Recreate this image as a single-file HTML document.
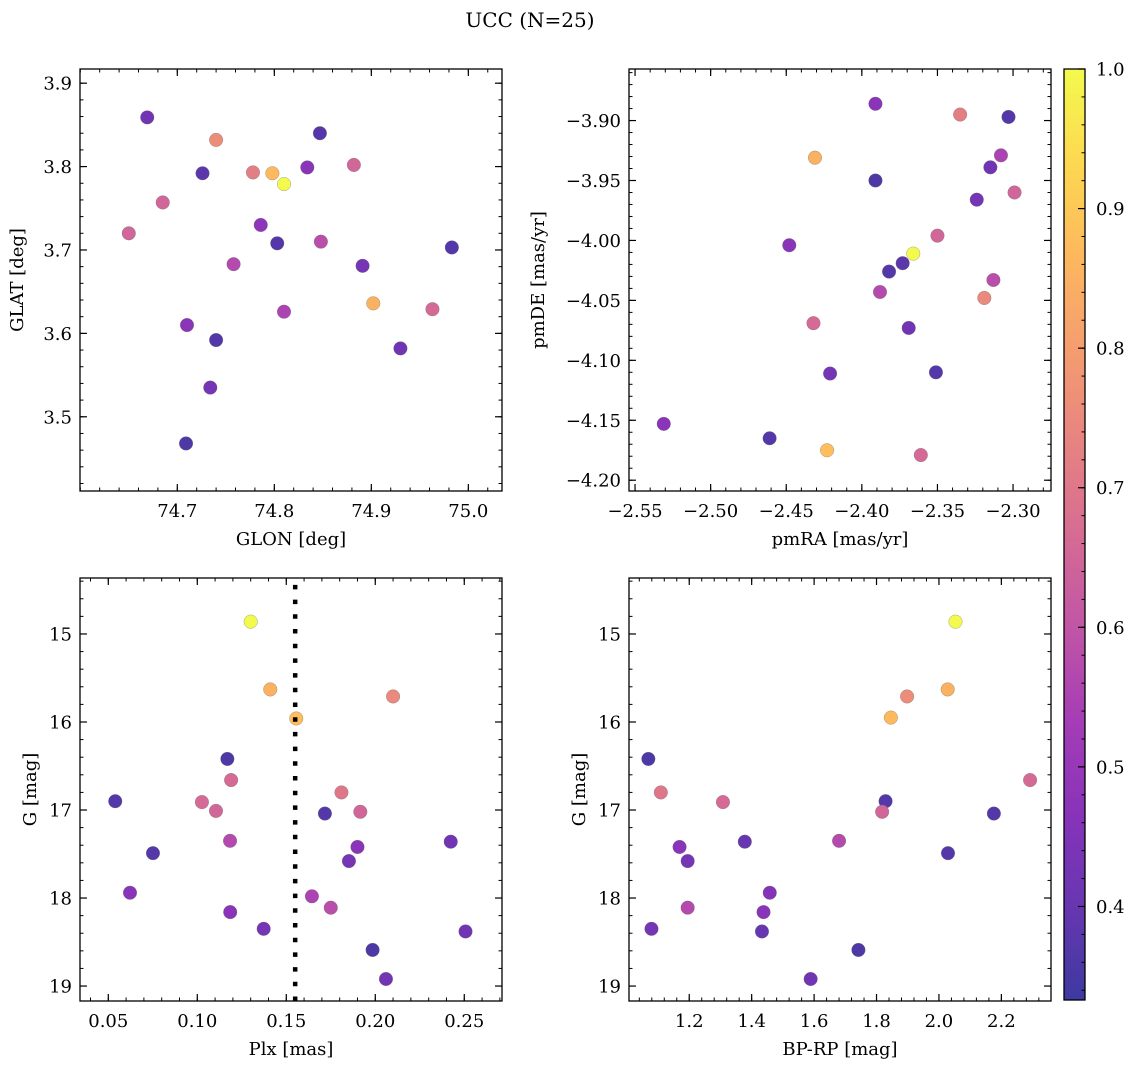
<!DOCTYPE html>
<html><head><meta charset="utf-8">
<style>
html,body{margin:0;padding:0;background:#fff;}
svg{display:block;font-family:"DejaVu Serif","Liberation Serif",serif;}
</style></head>
<body>
<svg id="fig" width="1136" height="1068" viewBox="0 0 1136 1068" xmlns="http://www.w3.org/2000/svg">
<text x="530" y="27" text-anchor="middle" font-size="20">UCC (N=25)</text>
</svg>
<script>
// ---- data: top-left (GLON vs GLAT)
const tlX = [74.669,74.740,74.847,74.726,74.778,74.798,74.810,74.834,74.882,74.685,74.650,74.786,74.803,74.848,74.983,74.758,74.891,74.902,74.963,74.810,74.710,74.740,74.930,74.734,74.709];
const tlY = [3.859,3.832,3.840,3.792,3.793,3.792,3.779,3.799,3.802,3.757,3.720,3.730,3.708,3.710,3.703,3.683,3.681,3.636,3.629,3.626,3.610,3.592,3.582,3.535,3.468];
const tlC = [0.42,0.76,0.37,0.38,0.72,0.87,1.0,0.47,0.65,0.65,0.65,0.48,0.37,0.58,0.37,0.57,0.43,0.85,0.66,0.55,0.47,0.37,0.42,0.43,0.36];
// ---- data: top-right (pmRA vs pmDE)
const trX = [-2.391,-2.335,-2.303,-2.431,-2.308,-2.315,-2.391,-2.299,-2.324,-2.350,-2.448,-2.366,-2.373,-2.382,-2.313,-2.388,-2.319,-2.432,-2.369,-2.421,-2.351,-2.531,-2.461,-2.423,-2.361];
const trY = [-3.886,-3.895,-3.897,-3.931,-3.929,-3.939,-3.950,-3.960,-3.966,-3.996,-4.004,-4.011,-4.019,-4.026,-4.033,-4.043,-4.048,-4.069,-4.073,-4.111,-4.110,-4.153,-4.165,-4.175,-4.179];
const trC = [0.47,0.72,0.37,0.85,0.55,0.42,0.36,0.65,0.43,0.65,0.47,1.0,0.38,0.37,0.58,0.57,0.75,0.66,0.42,0.43,0.37,0.47,0.37,0.88,0.66];
// ---- data: bottom-left (Plx vs G)
const blX = [0.130,0.141,0.1556,0.210,0.1169,0.119,0.0539,0.1026,0.1105,0.181,0.1717,0.1916,0.1184,0.2424,0.0751,0.190,0.1852,0.0622,0.1644,0.175,0.1185,0.1373,0.2507,0.1985,0.206];
const blY = [14.86,15.63,15.96,15.71,16.42,16.66,16.90,16.91,17.01,16.80,17.04,17.02,17.35,17.36,17.49,17.42,17.58,17.94,17.98,18.11,18.16,18.35,18.38,18.59,18.92];
const blC = [1.0,0.85,0.88,0.75,0.36,0.66,0.37,0.66,0.65,0.70,0.37,0.65,0.57,0.42,0.37,0.47,0.43,0.47,0.55,0.58,0.47,0.43,0.42,0.36,0.42];
const plxLine = [0.155];
// ---- data: bottom-right (BP-RP vs G)
const brX = [2.053,2.028,1.898,1.846,1.069,2.292,1.109,1.308,1.829,1.818,2.176,1.169,1.378,1.680,1.195,2.029,1.458,1.195,1.438,1.079,1.433,1.742,1.589];
const brY = [14.86,15.63,15.71,15.95,16.42,16.66,16.80,16.91,16.90,17.02,17.04,17.42,17.36,17.35,17.58,17.49,17.94,18.11,18.16,18.35,18.38,18.59,18.92];
const brC = [1.0,0.85,0.76,0.87,0.36,0.66,0.70,0.66,0.37,0.65,0.37,0.47,0.40,0.57,0.43,0.37,0.46,0.57,0.47,0.43,0.40,0.36,0.42];
// ---- ticks
const tlXTicks = [74.7,74.8,74.9,75.0], tlXLabels = ["74.7","74.8","74.9","75.0"];
const tlYTicks = [3.5,3.6,3.7,3.8,3.9], tlYLabels = ["3.5","3.6","3.7","3.8","3.9"];
const trXTicks = [-2.55,-2.50,-2.45,-2.40,-2.35,-2.30], trXLabels = ["\u22122.55","\u22122.50","\u22122.45","\u22122.40","\u22122.35","\u22122.30"];
const trYTicks = [-3.90,-3.95,-4.00,-4.05,-4.10,-4.15,-4.20], trYLabels = ["\u22123.90","\u22123.95","\u22124.00","\u22124.05","\u22124.10","\u22124.15","\u22124.20"];
const blXTicks = [0.05,0.10,0.15,0.20,0.25], blXLabels = ["0.05","0.10","0.15","0.20","0.25"];
const gTicks = [15,16,17,18,19], gLabels = ["15","16","17","18","19"];
const brXTicks = [1.2,1.4,1.6,1.8,2.0,2.2], brXLabels = ["1.2","1.4","1.6","1.8","2.0","2.2"];
const cbTicks = [0.4,0.5,0.6,0.7,0.8,0.9,1.0], cbLabels = ["0.4","0.5","0.6","0.7","0.8","0.9","1.0"];
const cMin = 0.333, cMax = 1.0;

const FS = 18;
const NS = "http://www.w3.org/2000/svg";
const svg = document.getElementById("fig");
function mk(tag, attrs, parent){
  const e = document.createElementNS(NS, tag);
  for (const k in attrs) e.setAttribute(k, attrs[k]);
  (parent||svg).appendChild(e); return e;
}
const stops = ["#0d0887","#41049d","#6a00a8","#8f0da4","#b12a90","#cc4778","#e16462","#f2844b","#fca636","#fcce25","#f0f921"];
function hex(h){return [parseInt(h.substr(1,2),16),parseInt(h.substr(3,2),16),parseInt(h.substr(5,2),16)];}
function plasma(t){
  t=Math.max(0,Math.min(1,t)); const p=t*10; const i=Math.min(9,Math.floor(p)); const f=p-i;
  const a=hex(stops[i]), b=hex(stops[i+1]);
  const c=a.map((v,k)=>v+(b[k]-v)*f);
  return "rgb("+c.map(v=>Math.round(v*0.8+255*0.2)).join(",")+")";
}
function cmap(v){return plasma((v-cMin)/(cMax-cMin));}

function panel(o){
  const {name,L,T,W,H,xd,yd,xt,xl,yt,yl,xMinor,yMinor,xTitle,yTitle,yTitleX,xs,ys,cs,invY} = o;
  const g = mk("g",{});
  
  
  const sx = v => L + (v-xd[0])/(xd[1]-xd[0])*W;
  const sy = invY ? (v => T + (v-yd[0])/(yd[1]-yd[0])*H) : (v => T + H - (v-yd[0])/(yd[1]-yd[0])*H);
  const lo=Math.min(...xd), hi=Math.max(...xd);
  for (let k=Math.ceil(lo/xMinor-1e-6); k*xMinor<=hi+1e-9; k++){
    const x=sx(k*xMinor);
    mk("line",{x1:x,x2:x,y1:T+H,y2:T+H-3.5,stroke:"#000","stroke-width":1},g);
    mk("line",{x1:x,x2:x,y1:T,y2:T+3.5,stroke:"#000","stroke-width":1},g);
  }
  const ylo=Math.min(...yd), yhi=Math.max(...yd);
  for (let k=Math.ceil(ylo/yMinor-1e-6); k*yMinor<=yhi+1e-9; k++){
    const y=sy(k*yMinor);
    mk("line",{x1:L,x2:L+3.5,y1:y,y2:y,stroke:"#000","stroke-width":1},g);
    mk("line",{x1:L+W,x2:L+W-3.5,y1:y,y2:y,stroke:"#000","stroke-width":1},g);
  }
  xt.forEach((v,i)=>{
    const x=sx(v);
    mk("line",{x1:x,x2:x,y1:T+H,y2:T+H-7,stroke:"#000","stroke-width":1.2},g);
    mk("line",{x1:x,x2:x,y1:T,y2:T+7,stroke:"#000","stroke-width":1.2},g);
    const t=mk("text",{x:x,y:T+H+26,"text-anchor":"middle","font-size":FS},g);
    
    
    t.textContent=xl[i];
  });
  yt.forEach((v,i)=>{
    const y=sy(v);
    mk("line",{x1:L,x2:L+7,y1:y,y2:y,stroke:"#000","stroke-width":1.2},g);
    mk("line",{x1:L+W,x2:L+W-7,y1:y,y2:y,stroke:"#000","stroke-width":1.2},g);
    const t=mk("text",{x:L-8,y:y+6.5,"text-anchor":"end","font-size":FS},g);
    
    
    t.textContent=yl[i];
  });
  const xtT=mk("text",{x:L+W/2,y:T+H+54,"text-anchor":"middle","font-size":FS},g);
  
  
  xtT.textContent=xTitle;
  const ytT=mk("text",{x:yTitleX,y:T+H/2,"text-anchor":"middle","font-size":FS,transform:"rotate(-90 "+yTitleX+" "+(T+H/2)+")"},g);
  
  
  ytT.textContent=yTitle;
  xs.forEach((v,i)=>{
    const c=mk("circle",{cx:sx(v),cy:sy(ys[i]),r:6.8,fill:cmap(cs[i]),stroke:"rgba(110,110,110,0.6)","stroke-width":0.5},g);
    
    
  });
  if (o.vline){
    o.vline.forEach(v=>{
      const ln=mk("line",{x1:sx(v),x2:sx(v),y1:T+H,y2:T,stroke:"#000","stroke-width":4.5,"stroke-dasharray":"4.5 10.2"},g);
      
      
    });
  }
  const fr=mk("rect",{x:L,y:T,width:W,height:H,fill:"none",stroke:"#000","stroke-width":1.3},g);
  
  
}

panel({name:"glon-glat-panel",L:80,T:69,W:422,H:422,xd:[74.5997,75.0347],yd:[3.411,3.917],
  xt:tlXTicks,xl:tlXLabels,yt:tlYTicks,yl:tlYLabels,xMinor:0.02,yMinor:0.02,
  xTitle:"GLON [deg]",yTitle:"GLAT [deg]",yTitleX:23,xs:tlX,ys:tlY,cs:tlC});
panel({name:"pmra-pmde-panel",L:629,T:69,W:422,H:422,xd:[-2.554,-2.2749],yd:[-4.209,-3.857],
  xt:trXTicks,xl:trXLabels,yt:trYTicks,yl:trYLabels,xMinor:0.01,yMinor:0.01,
  xTitle:"pmRA [mas/yr]",yTitle:"pmDE [mas/yr]",yTitleX:544,xs:trX,ys:trY,cs:trC});
panel({name:"plx-g-panel",L:80,T:578,W:422,H:423,xd:[0.0341,0.2712],yd:[14.364,19.17],invY:true,
  xt:blXTicks,xl:blXLabels,yt:gTicks,yl:gLabels,xMinor:0.01,yMinor:0.2,
  xTitle:"Plx [mas]",yTitle:"G [mag]",yTitleX:36,xs:blX,ys:blY,cs:blC,vline:plxLine});
panel({name:"bprp-g-panel",L:629,T:578,W:422,H:423,xd:[1.007,2.359],yd:[14.364,19.17],invY:true,
  xt:brXTicks,xl:brXLabels,yt:gTicks,yl:gLabels,xMinor:0.04,yMinor:0.2,
  xTitle:"BP-RP [mag]",yTitle:"G [mag]",yTitleX:585,xs:brX,ys:brY,cs:brC});

(function(){
  const L=1064,T=69,W=21,H=931;
  const g=mk("g",{});
  
  
  const defs=mk("defs",{},g);
  const lg=mk("linearGradient",{id:"cbg",x1:"0",y1:"1",x2:"0",y2:"0"},defs);
  for(let i=0;i<=20;i++){ mk("stop",{offset:(i/20),"stop-color":plasma(i/20)},lg); }
  mk("rect",{x:L,y:T,width:W,height:H,fill:"url(#cbg)"},g);
  const sy=v=>T+H-(v-cMin)/(cMax-cMin)*H;
  for(let k=Math.ceil(cMin/0.02);k*0.02<=cMax+1e-9;k++){
    const y=sy(k*0.02);
    mk("line",{x1:L+W,x2:L+W-3.5,y1:y,y2:y,stroke:"#000","stroke-width":1},g);
  }
  cbTicks.forEach((v,i)=>{
    const y=sy(v);
    mk("line",{x1:L+W,x2:L+W-7,y1:y,y2:y,stroke:"#000","stroke-width":1.2},g);
    const t=mk("text",{x:L+W+11,y:y+6.5,"font-size":FS},g);
    
    
    t.textContent=cbLabels[i];
  });
  mk("rect",{x:L,y:T,width:W,height:H,fill:"none",stroke:"#000","stroke-width":1.3},g);
})();
</script>
</body></html>
